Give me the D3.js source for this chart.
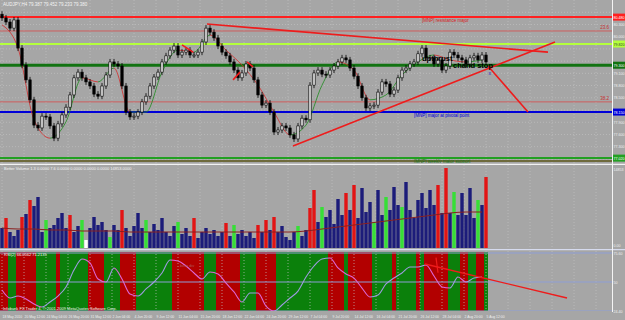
<!DOCTYPE html>
<html>
<head>
<meta charset="utf-8">
<script src="https://cdn.jsdelivr.net/npm/d3@7"></script>
<style>
body{margin:0;background:#a6a6a6;}
svg{display:block;}
text{font-family:"Liberation Sans",Arial,sans-serif;}
</style>
</head>
<body>
<div id="chart"></div>
<script>
// AUDJPY H4 - price, Better Volume, RSI(2) zones

var closes = [80.46,80.36,80.21,80.41,79.72,79.30,78.94,78.45,77.83,77.76,
	78.05,78.03,77.81,77.51,77.86,78.08,78.27,78.57,78.99,79.13,
	78.99,78.89,78.79,78.59,78.54,78.79,79.06,79.38,79.33,79.28,
	78.79,78.15,78.03,78.05,78.15,78.40,78.54,78.79,79.01,79.13,
	79.38,79.53,79.67,79.77,79.55,79.62,79.67,79.55,79.55,79.62,
	79.87,80.21,80.11,79.97,79.77,79.62,79.53,79.38,79.18,78.99,
	79.11,79.33,79.23,78.94,78.57,78.32,78.37,78.15,77.66,77.71,
	77.81,77.76,77.59,77.49,77.81,78.00,77.96,78.81,79.11,79.18,
	79.08,79.06,79.18,79.28,79.38,79.48,79.43,79.23,79.03,78.79,
	78.50,78.25,78.30,78.32,78.64,78.89,78.84,78.59,78.69,78.99,
	79.18,79.23,79.33,79.38,79.58,79.72,79.48,79.48,79.33,79.43,
	79.18,79.28,79.62,79.55,79.48,79.43,79.33,79.48,79.53,79.43,
	79.55,79.38];
var firstOpen = 80.55;

// moving average, one value every 4 bars
var priceMA = [80.29,79.72,77.96,77.51,77.91,78.99,78.89,79.23,78.15,78.15,
	79.13,79.67,79.62,80.04,79.67,79.30,78.81,78.15,77.59,77.83,
	78.81,79.38,79.18,78.45,78.57,79.06,79.38,79.55,79.43,79.38,79.43];

var volumes = [2000,3000,1600,1200,1800,3100,3400,4800,4200,5100,
	1600,2800,2000,2300,3000,3500,2000,3300,1600,2200,
	2800,800,2000,3100,2300,2600,1800,1100,2300,1800,
	3800,2000,1200,2200,3500,2000,2800,1600,2400,1800,
	3000,1600,1200,2200,2600,1400,2000,1200,3000,1000,
	1600,2000,1400,1800,1200,1600,2500,1200,2300,1400,
	1800,1200,1600,1000,2300,1600,2800,1800,3100,1600,
	2200,1100,800,1600,2200,1200,1800,4000,5800,2600,
	4100,3100,3800,2400,4900,3300,5500,3800,6300,3000,
	6000,3600,4600,2600,5800,3300,5100,3800,6100,4300,
	4100,6600,3800,3000,4800,5500,4000,5800,4300,6300,
	3500,8000,3500,5600,3300,5500,3300,6000,3000,4800,
	4300,7100];
var volKind = ("nrnnnrnrnn"+"ngnnnnnrnn"+"gwnnnnngnn"+"rnnnnngnnn"+"nnnngnnnrn"+
	"nnnnnnrngn"+"nnnnrnrnrn"+"nnnngnnrrn"+"gnnnnnrnrn"+"nnngnngnnn"+
	"gnnnnnnnnr"+"nrngnnnnng"+"nr").split('');
// volume average, every 4 bars
var volMA = [2000,1900,1900,1800,1800,1700,1700,1700,1600,1600,
	1600,1600,1600,1600,1600,1600,1600,1600,1600,1700,
	1900,2100,2300,2500,2700,2900,3100,3300,3500,3600,3600];

// RSI(2), every 2 bars
var rsi = [43.1,36.2,37.9,35.3,31.0,28.4,32.8,37.9,45.7,60.3,
	69.8,66.4,52.6,50.0,62.1,52.6,39.7,37.9,44.0,50.0,
	57.8,69.0,68.1,63.8,57.8,52.6,58.6,56.9,49.1,41.4,
	32.8,40.5,40.5,29.3,25.0,30.2,36.2,42.2,54.3,63.8,
	69.8,70.7,62.1,56.9,53.4,44.8,37.1,38.8,48.3,53.4,
	57.8,62.9,62.9,64.7,55.2,45.7,44.8,54.3,50.0,53.4,54.3];
// zone boundaries (bar index), starting with a red zone, then alternating
var zoneEnds = [2,4,9,14,15,22,26,30,34,43,51,54,60,64,69,82,86,87,93,98,99,104,105,106,112,115,117,119,121,122];

var timeLabels = ["18 May 2010","20 May 12:00","24 May 04:00","26 May 20:00","31 May 12:00","2 Jun 04:00",
	"4 Jun 20:00","9 Jun 12:00","11 Jun 04:00","15 Jun 20:00","18 Jun 12:00","22 Jun 04:00",
	"24 Jun 20:00","29 Jun 12:00","7 Jul 04:00","9 Jul 20:00","14 Jul 12:00","16 Jul 04:00",
	"21 Jul 20:00","26 Jul 12:00","28 Jul 04:00","2 Aug 20:00","5 Aug 12:00"];
var priceTicks = [80.60,80.30,80.00,79.70,79.40,79.10,78.80,78.50,78.20,77.90,77.60,77.30,77.00];

var levelPrices = [80.48,80.14,79.82,79.30,78.40,78.15,77.02];
var levelColors = ['#ff2020','#d84a4a','#b4ff3c','#127312','#d84a4a','#0000d8','#22a022'];
var levelWidths = [2,0.8,2,3,0.8,2,2];
var levelBox = [1,0,1,1,0,1,1];
var fibNames = {1:'23.6',4:'38.2'};
var levelNotes = [
	{price:80.48, bar:105, text:'[MNP] resistance major', color:'#d82020'},
	{price:78.15, bar:103, text:'[MNP] major at pivotal point', color:'#0000d8'},
	{price:77.02, bar:103, text:'[MNP] weekly major support', color:'#127312'}
];

// drawn trend lines [bar, price, bar, price]
var trendLines = [
	[51.25,80.31,136.5,79.62],
	[72.75,77.32,138.25,79.87],
	[121.5,79.28,131.5,78.15],
	[45,79.80,47.75,79.62],
	[57.75,78.94,59.5,79.13],
	[61.25,79.38,62.75,79.26]
];
var rsiLine = [105.75,65.5,141.25,36.2];

var W = 625, H = 320, plotR = 612;

var svg = d3.select('#chart').append('svg')
	.attr('width',W)
	.attr('height',H);

svg.append('rect').attr('width',W).attr('height',H).attr('fill','#a6a6a6');

var x = d3.scaleLinear().domain([0,152.5]).range([2,plotR]);
var yP = d3.scaleLinear().domain([76.90,80.90]).range([163,0]);
var yV = d3.scaleLinear().domain([0,8000]).range([248,168]);
var yR = d3.scaleLinear().domain([25,75]).range([311,253]);

var defs = svg.append('defs');
defs.append('clipPath').attr('id','clipP').append('rect').attr('x',0).attr('y',0).attr('width',plotR).attr('height',163);
defs.append('clipPath').attr('id','clipV').append('rect').attr('x',0).attr('y',165).attr('width',plotR).attr('height',83);
defs.append('clipPath').attr('id','clipR').append('rect').attr('x',0).attr('y',251).attr('width',plotR).attr('height',60);

// RSI zones (under grid)
var zones = zoneEnds.map(function(e,k){
	return {s: k ? zoneEnds[k-1] : 0, e: e, red: k%2===0};
});
svg.append('g').selectAll('rect').data(zones).enter().append('rect')
	.attr('x',function(d){return x(d.s-0.5)})
	.attr('width',function(d){return x(d.e-0.5)-x(d.s-0.5)})
	.attr('y',252).attr('height',59)
	.attr('fill',function(d){return d.red ? '#b20000' : '#0b800b'});

// vertical grid
var gridIdx = d3.range(0,28).map(function(k){return k*5.5});
[[0,163],[165,248],[251,311]].forEach(function(p){
	svg.append('g').selectAll('line').data(gridIdx).enter().append('line')
		.attr('x1',function(d){return x(d)}).attr('x2',function(d){return x(d)})
		.attr('y1',p[0]).attr('y2',p[1])
		.attr('stroke','#c2c2c2').attr('stroke-width',0.7).attr('stroke-dasharray','1,2');
});
// horizontal grid price
svg.append('g').selectAll('line').data(priceTicks).enter().append('line')
	.attr('x1',0).attr('x2',plotR)
	.attr('y1',function(d){return yP(d)}).attr('y2',function(d){return yP(d)})
	.attr('stroke','#c2c2c2').attr('stroke-width',0.7).attr('stroke-dasharray','1,2');

// ---- price panel
var pg = svg.append('g').attr('clip-path','url(#clipP)');

pg.selectAll('.lvl').data(levelPrices).enter().append('line').attr('class','lvl')
	.attr('x1',0).attr('x2',plotR)
	.attr('y1',function(d){return yP(d)}).attr('y2',function(d){return yP(d)})
	.attr('stroke',function(d,i){return levelColors[i]})
	.attr('stroke-width',function(d,i){return levelWidths[i]});
pg.append('line').attr('x1',0).attr('x2',plotR).attr('y1',yP(76.95)).attr('y2',yP(76.95))
	.attr('stroke','#6e6a3c').attr('stroke-width',2);

pg.selectAll('.note').data(levelNotes).enter().append('text').attr('class','note')
	.attr('x',function(d){return x(d.bar)}).attr('y',function(d){return yP(d.price)+5})
	.attr('font-size',4.5).attr('fill',function(d){return d.color})
	.text(function(d){return d.text});

Object.keys(fibNames).forEach(function(k){
	pg.append('text').attr('x',plotR-3).attr('y',yP(levelPrices[k])-1.5)
		.attr('text-anchor','end').attr('font-size',4.5).attr('fill','#c83030')
		.text(fibNames[k]);
});

// line coloured by direction
function dirLine(g,pts,xs,ys,upC,downC,id,w){
	var grad = defs.append('linearGradient').attr('id',id)
		.attr('gradientUnits','userSpaceOnUse').attr('x1',0).attr('x2',W).attr('y1',0).attr('y2',0);
	for(var j=0;j<pts.length-1;j++){
		var c = pts[j+1][1]>=pts[j][1] ? upC : downC;
		grad.append('stop').attr('offset',xs(pts[j][0])/W).attr('stop-color',c);
		grad.append('stop').attr('offset',xs(pts[j+1][0])/W).attr('stop-color',c);
	}
	g.append('path').datum(pts)
		.attr('d',d3.line().x(function(d){return xs(d[0])}).y(function(d){return ys(d[1])}).curve(d3.curveMonotoneX))
		.attr('fill','none').attr('stroke','url(#'+id+')').attr('stroke-width',w);
}
dirLine(pg, priceMA.map(function(v,k){return [k*4,v]}), x, yP, '#1d8a1d', '#d42a2a', 'gMA', 0.8);

// candles
var candles = closes.map(function(c,i){
	var o = i ? closes[i-1] : firstOpen;
	return {i:i, o:o, c:c, hi:Math.max(o,c), lo:Math.min(o,c)};
});
pg.selectAll('.wick').data(candles).enter().append('line').attr('class','wick')
	.attr('x1',function(d){return x(d.i)}).attr('x2',function(d){return x(d.i)})
	.attr('y1',function(d){return yP(d.hi)-3}).attr('y2',function(d){return yP(d.lo)+3})
	.attr('stroke','#000').attr('stroke-width',0.8);
pg.selectAll('.body').data(candles).enter().append('rect').attr('class','body')
	.attr('x',function(d){return x(d.i)-1.2}).attr('width',2.4)
	.attr('y',function(d){return yP(d.hi)})
	.attr('height',function(d){return Math.max(1,yP(d.lo)-yP(d.hi))})
	.attr('fill',function(d){return d.c>=d.o ? '#d6d6d6' : '#000'})
	.attr('stroke','#000').attr('stroke-width',0.6);

pg.selectAll('.tl').data(trendLines).enter().append('line').attr('class','tl')
	.attr('x1',function(d){return x(d[0])}).attr('y1',function(d){return yP(d[1])})
	.attr('x2',function(d){return x(d[2])}).attr('y2',function(d){return yP(d[3])})
	.attr('stroke','#ee1c1c').attr('stroke-width',1.6);

pg.append('text').attr('x',x(105)).attr('y',yP(79.40)).attr('font-size',7.5).attr('font-weight','bold')
	.attr('fill','#000').text('upthrust');
pg.append('text').attr('x',x(112.75)).attr('y',yP(79.23)).attr('font-size',7.5).attr('font-weight','bold')
	.attr('fill','#000').text('chand stop');
pg.append('text').attr('x',x(121.6)).attr('y',yP(79.05)).attr('font-size',5).attr('fill','#2020c0').text('x');

svg.append('text').attr('x',3).attr('y',6).attr('font-size',4.5).attr('fill','#f4f4f4')
	.text('AUDJPY,H4  79.387 79.452 79.233 79.380');

// ---- volume panel
var vg = svg.append('g').attr('clip-path','url(#clipV)');
var volColor = {n:'#1c1c7a', r:'#e31414', g:'#36e036', w:'#ffffff'};
vg.selectAll('.vb').data(volumes).enter().append('rect').attr('class','vb')
	.attr('x',function(d,i){return x(i)-1.7}).attr('width',3.4)
	.attr('y',function(d){return yV(d)})
	.attr('height',function(d){return yV(0)-yV(d)})
	.attr('fill',function(d,i){return volColor[volKind[i]]});
vg.append('path').datum(volMA)
	.attr('d',d3.line().x(function(d,k){return x(k*4)}).y(function(d){return yV(d)}).curve(d3.curveMonotoneX))
	.attr('fill','none').attr('stroke','#8a1f1f').attr('stroke-width',1);
svg.append('text').attr('x',4).attr('y',170).attr('font-size',4).attr('fill','#f4f4f4')
	.text('Better Volume 1.3  0.0000 7.6 0.0000 0.0000 0.0000 0.0000 14853.0000');

// ---- RSI panel
var rg = svg.append('g').attr('clip-path','url(#clipR)');
rg.selectAll('.rl').data([75,50,25]).enter().append('line').attr('class','rl')
	.attr('x1',0).attr('x2',plotR)
	.attr('y1',function(d){return yR(d)}).attr('y2',function(d){return yR(d)})
	.attr('stroke','#8e9ed6').attr('stroke-width',1.2);
dirLine(rg, rsi.map(function(v,k){return [k*2,v]}), x, yR, '#9d9be0', '#dc66d6', 'gRSI', 1.1);
rg.append('line')
	.attr('x1',x(rsiLine[0])).attr('y1',yR(rsiLine[1]))
	.attr('x2',x(rsiLine[2])).attr('y2',yR(rsiLine[3]))
	.attr('stroke','#ee1c1c').attr('stroke-width',1.4);
rg.append('line').attr('x1',x(108.5)).attr('x2',x(109)).attr('y1',yR(71)).attr('y2',yR(58))
	.attr('stroke','#ee1c1c').attr('stroke-width',1.2);
svg.append('text').attr('x',4).attr('y',256).attr('font-size',4).attr('fill','#f4f4f4')
	.text('RSI(2) 66.0562 71.2135');
svg.append('text').attr('x',x(44.5)).attr('y',yR(63)).attr('font-size',4).attr('fill','#b05a5a')
	.text('bear div');
svg.append('text').attr('x',3).attr('y',309.5).attr('font-size',4).attr('fill','#f4f4f4')
	.text('Infobank FX Trader 4, \u00a9 2001-2009 MetaQuotes Software Corp.');

// separators and right axis
svg.append('line').attr('x1',0).attr('x2',W).attr('y1',164.3).attr('y2',164.3).attr('stroke','#f2f2f2').attr('stroke-width',1.2);
svg.append('line').attr('x1',0).attr('x2',W).attr('y1',249.6).attr('y2',249.6).attr('stroke','#d6dbee').attr('stroke-width',1.2);
svg.append('line').attr('x1',plotR+0.5).attr('x2',plotR+0.5).attr('y1',0).attr('y2',312).attr('stroke','#f4f4f4').attr('stroke-width',1);

var fmt = d3.format('.3f');
var boxed = levelPrices.filter(function(d,i){return levelBox[i]});
var freeTicks = priceTicks.filter(function(t){
	return boxed.every(function(p){return Math.abs(yP(t)-Math.min(yP(p),159.5))>6});
});
svg.append('g').selectAll('text').data(freeTicks).enter().append('text')
	.attr('x',plotR+1.5).attr('y',function(d){return yP(d)+1.5})
	.attr('font-size',3.6).attr('fill','#f0f0f0').text(function(d){return fmt(d)});
var boxes = levelPrices.map(function(p,i){return {p:p,c:levelColors[i]}}).filter(function(d,i){return levelBox[i]});
var bx = svg.append('g').selectAll('g').data(boxes).enter().append('g');
bx.append('rect').attr('x',plotR+1).attr('width',W-plotR-1)
	.attr('y',function(d){return Math.min(yP(d.p)-3.5,156)}).attr('height',7)
	.attr('fill',function(d){return d.c});
bx.append('text').attr('x',plotR+1.5).attr('y',function(d){return Math.min(yP(d.p)-3.5,156)+5})
	.attr('font-size',3.6).attr('fill',function(d){return d.c==='#b4ff3c' ? '#333' : '#fff'})
	.text(function(d){return fmt(d.p)});

svg.append('text').attr('x',plotR+1.5).attr('y',171).attr('font-size',3.6).attr('fill','#f0f0f0').text('14853');
svg.append('text').attr('x',plotR+1.5).attr('y',247).attr('font-size',3.6).attr('fill','#f0f0f0').text('0.00');
[[75,'75.60'],[50,'50'],[25,'24.40']].forEach(function(r){
	svg.append('text').attr('x',plotR+1.5).attr('y',yR(r[0])+1.5).attr('font-size',3.6).attr('fill','#f0f0f0').text(r[1]);
});

// time axis
svg.append('g').selectAll('text').data(timeLabels).enter().append('text')
	.attr('x',function(d,k){return x(k*5.5)+0.5}).attr('y',318)
	.attr('font-size',3.4).attr('fill','#f0f0f0').text(function(d){return d});
</script>
</body>
</html>
